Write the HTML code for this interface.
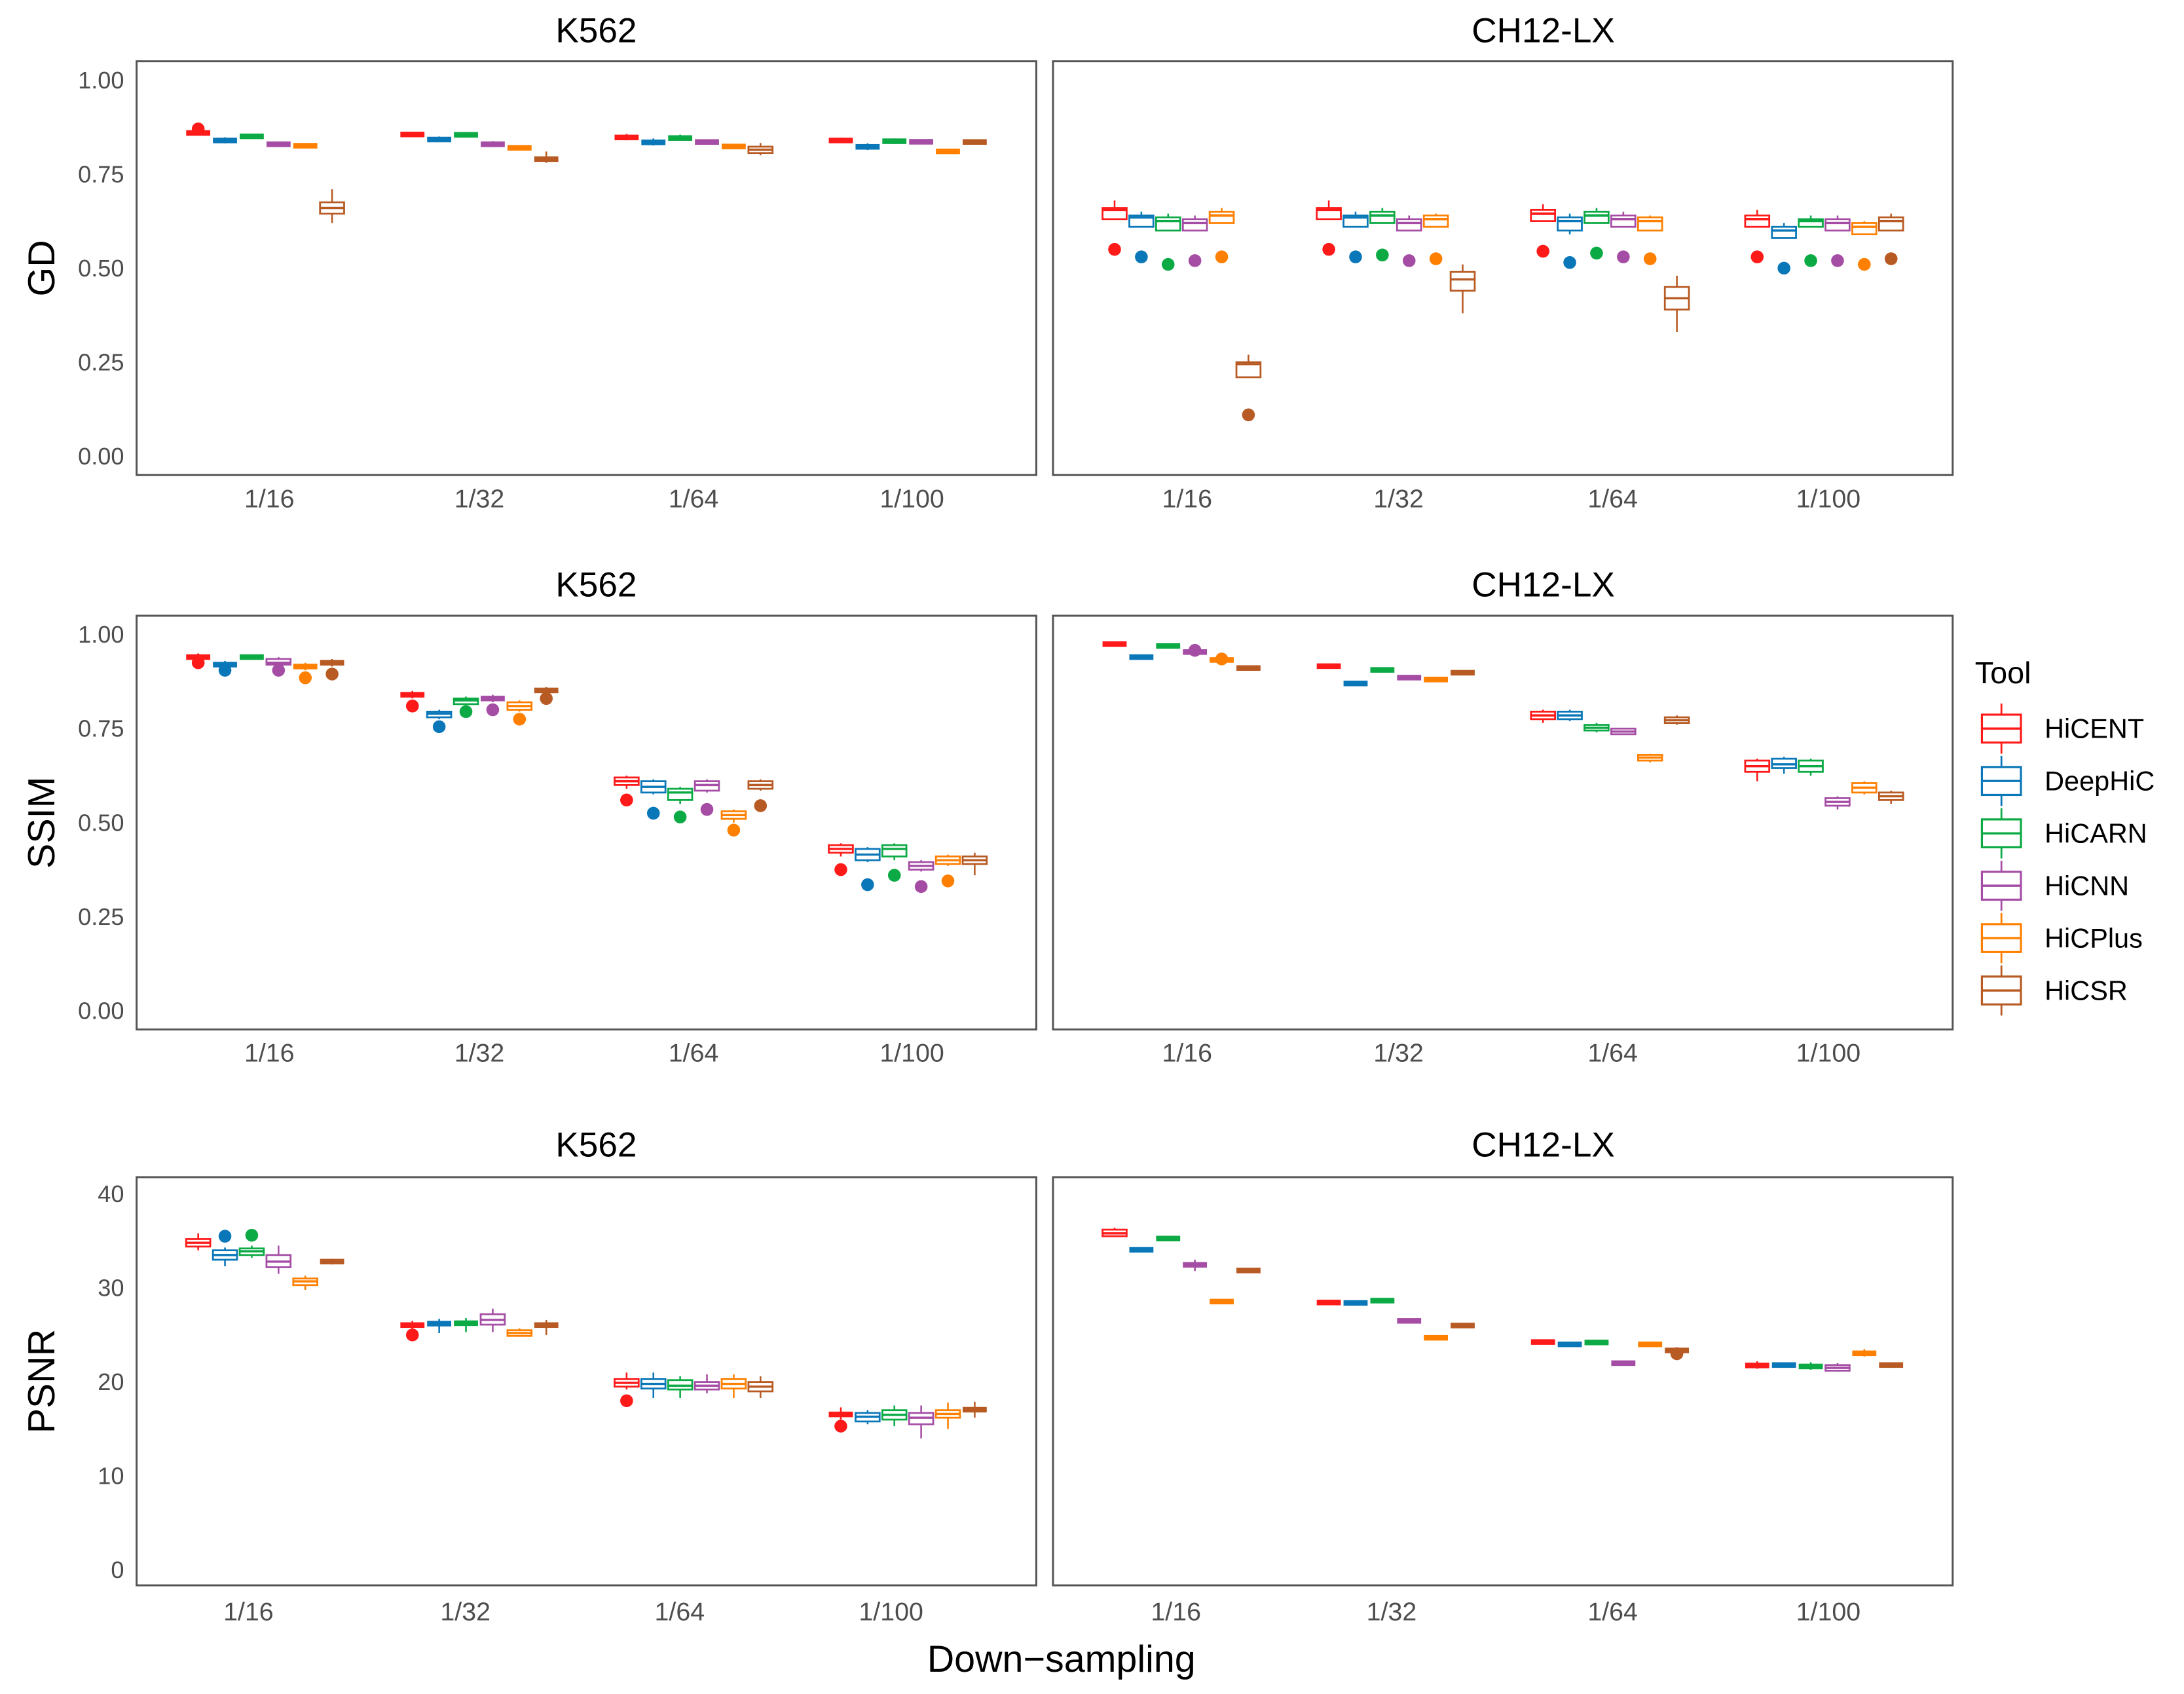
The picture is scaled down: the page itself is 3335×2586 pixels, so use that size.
<!DOCTYPE html>
<html><head><meta charset="utf-8"><style>
html,body{margin:0;padding:0;background:#fff;}
svg{display:block;font-family:"Liberation Sans",Arial,sans-serif;}
</style></head><body>
<svg id="chart" width="3335" height="2586" viewBox="0 0 1568 1216" xmlns="http://www.w3.org/2000/svg"></svg>
<script>
const tools = ["HiCENT","DeepHiC","HiCARN","HiCNN","HiCPlus","HiCSR"];
const colors = ["#FF1A1A","#0A77B8","#0BAA44","#A54DA5","#FF8000","#B85A23"];
const categories = ["1/16","1/32","1/64","1/100"];
const gdTicks = [0,0.25,0.5,0.75,1];
const gdTickLabels = ["0.00","0.25","0.50","0.75","1.00"];
const psnrTicks = [0,10,20,30,40];
const psnrTickLabels = ["0","10","20","30","40"];

// [lo,q1,med,q3,hi] per category x tool
const gdK562 = [
 [[.855,.856,.86,.863,.865],[.832,.836,.84,.843,.848],[.845,.847,.85,.854,.857],[.825,.826,.83,.833,.836],[.822,.823,.825,.828,.829],[.62,.645,.66,.675,.71]],
 [[.85,.852,.855,.859,.862],[.835,.838,.843,.846,.85],[.848,.85,.855,.859,.862],[.822,.825,.83,.834,.838],[.815,.816,.82,.824,.825],[.78,.783,.79,.797,.81]],
 [[.84,.843,.848,.852,.857],[.826,.829,.835,.84,.845],[.84,.842,.845,.85,.855],[.828,.831,.835,.84,.842],[.818,.82,.823,.827,.828],[.80,.806,.815,.823,.833]],
 [[.833,.835,.84,.844,.847],[.814,.817,.823,.828,.832],[.83,.833,.837,.842,.845],[.83,.832,.836,.84,.843],[.805,.806,.81,.815,.817],[.83,.831,.835,.84,.843]]];
const gdK562Out = [[.87,null,null,null,null,null],[null,null,null,null,null,null],[null,null,null,null,null,null],[null,null,null,null,null,null]];
const gdCH12 = [
 [[.63,.63,.655,.66,.68],[.61,.61,.635,.64,.65],[.60,.60,.625,.635,.645],[.60,.60,.62,.63,.64],[.62,.62,.64,.65,.66],[.21,.21,.245,.25,.27]],
 [[.63,.63,.655,.66,.68],[.61,.61,.635,.64,.65],[.62,.62,.64,.65,.66],[.60,.60,.62,.63,.64],[.61,.61,.63,.64,.645],[.38,.44,.47,.49,.51]],
 [[.625,.625,.645,.655,.67],[.59,.60,.625,.635,.645],[.62,.62,.64,.65,.66],[.61,.61,.63,.64,.65],[.60,.60,.625,.635,.64],[.33,.39,.42,.45,.48]],
 [[.61,.61,.63,.64,.655],[.58,.58,.60,.61,.62],[.61,.61,.625,.63,.64],[.60,.60,.62,.63,.64],[.59,.59,.61,.62,.625],[.60,.60,.625,.635,.645]]];
const gdCH12Out = [[.55,.53,.51,.52,.53,.11],[.55,.53,.535,.52,.525,null],[.545,.515,.54,.53,.525,null],[.53,.50,.52,.52,.51,.525]];
const ssimK562 = [
 [[.93,.935,.94,.945,.95],[.91,.915,.92,.925,.93],[.935,.937,.94,.943,.946],[.915,.92,.925,.935,.94],[.905,.91,.915,.92,.925],[.915,.92,.925,.93,.935]],
 [[.83,.835,.84,.845,.85],[.775,.78,.79,.795,.80],[.81,.815,.825,.83,.835],[.82,.825,.83,.835,.84],[.795,.80,.81,.82,.825],[.845,.848,.85,.855,.86]],
 [[.59,.60,.61,.62,.625],[.575,.58,.595,.61,.615],[.55,.56,.58,.59,.595],[.58,.585,.60,.61,.615],[.50,.51,.52,.53,.535],[.585,.59,.60,.61,.615]],
 [[.41,.42,.43,.44,.445],[.395,.40,.415,.43,.435],[.40,.41,.43,.44,.445],[.37,.375,.385,.395,.40],[.385,.39,.40,.41,.415],[.36,.39,.40,.41,.42]]];
const ssimK562Out = [[.925,.905,null,.905,.885,.895],[.81,.755,.795,.80,.775,.83],[.56,.525,.515,.535,.48,.545],[.375,.335,.36,.33,.345,null]];
const ssimCH12 = [
 [[.97,.972,.975,.977,.979],[.937,.938,.94,.942,.943],[.965,.967,.97,.972,.974],[.948,.95,.953,.957,.96],[.928,.93,.932,.935,.937],[.905,.907,.91,.915,.918]],
 [[.91,.912,.915,.92,.923],[.863,.865,.87,.875,.877],[.90,.902,.905,.91,.912],[.882,.883,.885,.888,.889],[.877,.878,.88,.883,.884],[.895,.896,.898,.901,.902]],
 [[.765,.775,.785,.795,.80],[.77,.775,.785,.795,.80],[.74,.745,.752,.76,.765],[.733,.735,.742,.75,.752],[.66,.665,.673,.68,.683],[.76,.765,.772,.78,.785]],
 [[.61,.635,.65,.665,.67],[.63,.645,.655,.67,.675],[.625,.635,.65,.665,.67],[.535,.545,.555,.565,.57],[.575,.58,.593,.605,.61],[.55,.56,.57,.58,.585]]];
const ssimCH12Out = [[null,null,null,.958,.935,null],[null,null,null,null,null,null],[null,null,null,null,null,null],[null,null,null,null,null,null]];
const psnrK562 = [
 [[34,34.4,34.8,35.2,35.8],[32.3,33,33.5,34,34.3],[33.2,33.5,33.9,34.2,34.5],[31.5,32.2,32.8,33.5,34.5],[29.8,30.3,30.7,31,31.3],[32.5,32.6,32.8,33,33.1]],
 [[25.3,25.8,26,26.3,26.5],[25.2,26,26.2,26.4,26.7],[25.3,26,26.3,26.5,26.8],[25.3,26.1,26.6,27.2,27.8],[24.8,24.9,25.2,25.5,25.7],[25,25.8,26,26.3,26.6]],
 [[19.2,19.5,19.9,20.3,21],[18.3,19.3,19.8,20.3,21],[18.3,19.2,19.6,20.2,20.6],[18.8,19.2,19.6,20,20.8],[18.3,19.3,19.8,20.3,20.8],[18.3,19,19.5,20,20.6]],
 [[16,16.3,16.6,16.8,17.3],[15.5,15.8,16.3,16.7,17],[15.3,16,16.5,17,17.5],[14,15.5,16.2,16.7,17.5],[15,16.2,16.6,17,17.8],[16.2,16.8,17.1,17.3,17.9]]];
const psnrK562Out = [[null,35.5,35.6,null,null,null],[25,null,null,null,null,null],[18,null,null,null,null,null],[15.3,null,null,null,null,null]];
const psnrCH12 = [
 [[35.4,35.5,35.8,36.2,36.4],[33.8,33.9,34,34.2,34.3],[35,35.1,35.2,35.4,35.5],[31.8,32.2,32.5,32.7,33],[28.3,28.4,28.5,28.7,28.8],[31.6,31.7,31.8,32,32.1]],
 [[28.2,28.3,28.4,28.6,28.7],[28.2,28.3,28.4,28.5,28.6],[28.4,28.5,28.6,28.8,28.9],[26.3,26.4,26.5,26.6,26.7],[24.5,24.6,24.7,24.8,24.9],[25.8,25.9,26,26.1,26.2]],
 [[24,24.1,24.2,24.4,24.5],[23.7,23.8,24,24.2,24.3],[23.9,24,24.2,24.4,24.5],[21.8,21.9,22,22.1,22.2],[23.8,23.9,24,24.1,24.2],[23.1,23.2,23.3,23.5,23.6]],
 [[21.4,21.5,21.7,22,22.2],[21.5,21.6,21.8,22,22.1],[21.3,21.4,21.6,21.9,22.1],[21.1,21.2,21.5,21.8,22],[22.7,22.8,23,23.3,23.5],[21.5,21.6,21.8,22,22.1]]];
const psnrCH12Out = [[null,null,null,null,null,null],[null,null,null,null,null,null],[null,null,null,null,null,23],[null,null,null,null,null,null]];

const NS="http://www.w3.org/2000/svg";
const svg=document.getElementById('chart');
function mk(tag,attrs,parent,text){const e=document.createElementNS(NS,tag);for(const k in attrs)e.setAttribute(k,attrs[k]);if(text!==undefined)e.textContent=text;(parent||svg).appendChild(e);return e;}

const rows=[{top:44,bot:341,dom:[-0.05,1.05],ticks:gdTicks,labels:gdTickLabels,title:"GD",data:[gdK562,gdCH12],outs:[gdK562Out,gdCH12Out],xl:[358,358],ty:22},
 {top:442,bot:739,dom:[-0.05,1.05],ticks:gdTicks,labels:gdTickLabels,title:"SSIM",data:[ssimK562,ssimCH12],outs:[ssimK562Out,ssimCH12Out],xl:[756,756],ty:420},
 {top:845,bot:1138,dom:[-1.63,41.78],ticks:psnrTicks,labels:psnrTickLabels,title:"PSNR",data:[psnrK562,psnrCH12],outs:[psnrK562Out,psnrCH12Out],xl:[1157,1157],ty:822}];
const cols=[{l:98,r:744,name:"K562",tx:428},{l:756,r:1402,name:"CH12-LX",tx:1108}];
const labelShift=[[3,0,0,3],[3,0,0,3],[-12,-10,-10,-12]];
const labelShiftR=[[4,2,2,3],[4,2,2,3],[-4,-3,2,3]];

rows.forEach((row,ri)=>{
  const ys=v=>row.bot-(v-row.dom[0])/(row.dom[1]-row.dom[0])*(row.bot-row.top);
  const cy=(row.top+row.bot)/2;
  const yt=mk('text',{x:30,y:cy,'font-size':27,'text-anchor':'middle',fill:'#000',transform:`rotate(-90 30 ${cy})`,'dominant-baseline':'central'},svg,row.title);
  
  
  cols.forEach((col,ci)=>{
    const g=mk('g',{});
    
    
    const step=(col.r-col.l)/4.2;
    const xs=i=>col.l+step*(0.6+i);
    const t=mk('text',{x:col.tx,y:row.ty,'font-size':25,'text-anchor':'middle','dominant-baseline':'central',fill:'#000'},g,col.name);
    
    
    if(ci===0){
      row.ticks.forEach((v,k)=>{
        const tl=mk('text',{x:89,y:ys(v),'font-size':17,'text-anchor':'end','dominant-baseline':'central',fill:'#4d4d4d'},g,row.labels[k]);
        
        
      });
    }
    categories.forEach((c,i)=>{
      const sh=(ci===0?labelShift:labelShiftR)[ri][i];
      const xl=mk('text',{x:xs(i)+sh,y:row.xl[ci],'font-size':18.5,'text-anchor':'middle','dominant-baseline':'central',fill:'#4d4d4d'},g,c);
      
      
      const dw=step*0.75/6;
      tools.forEach((tool,j)=>{
        const s=row.data[ci][i][j];
        const cx=xs(i)-step*0.375+dw*(j+0.5);
        const w=dw*0.9;
        const col_=colors[j];
        const bg=mk('g',{},g);
        
        
        mk('line',{x1:cx,x2:cx,y1:ys(s[4]),y2:ys(s[3]),stroke:col_,'stroke-width':1.2},bg);
        mk('line',{x1:cx,x2:cx,y1:ys(s[1]),y2:ys(s[0]),stroke:col_,'stroke-width':1.2},bg);
        let y3=ys(s[3]),y1=ys(s[1]);
        const h=y1-y3;
        if(h<4){
          mk('rect',{x:cx-w/2,y:(y1+y3)/2-2,width:w,height:4,fill:col_},bg);
        } else {
          mk('rect',{x:cx-w/2,y:y3,width:w,height:h,fill:'#fff',stroke:col_,'stroke-width':1.3},bg);
          mk('line',{x1:cx-w/2,x2:cx+w/2,y1:ys(s[2]),y2:ys(s[2]),stroke:col_,'stroke-width':1.6},bg);
        }
        const o=row.outs[ci][i][j];
        if(o!==null){
          const d=mk('circle',{cx:cx,cy:ys(o),r:4.6,fill:col_},bg);
          
          
        }
      });
    });
    const fr=mk('rect',{x:col.l,y:row.top,width:col.r-col.l,height:row.bot-row.top,fill:'none',stroke:'#555','stroke-width':1.4},g);
    
    
  });
});
const xt=mk('text',{x:762,y:1191,'font-size':27,'text-anchor':'middle','dominant-baseline':'central',fill:'#000'},svg,"Down\u2212sampling");



const lg=mk('g',{});


const lt=mk('text',{x:1418,y:483,'font-size':22,'dominant-baseline':'central',fill:'#000'},lg,"Tool");


tools.forEach((tool,j)=>{
  const y=523+j*37.6;
  const e=mk('g',{},lg);
  
  
  mk('line',{x1:1437,x2:1437,y1:y-18,y2:y+18,stroke:colors[j],'stroke-width':1.3},e);
  mk('rect',{x:1423,y:y-10,width:28,height:20,fill:'#fff',stroke:colors[j],'stroke-width':1.5},e);
  mk('line',{x1:1423,x2:1451,y1:y,y2:y,stroke:colors[j],'stroke-width':1.6},e);
  mk('text',{x:1468,y:y,'font-size':19.5,'dominant-baseline':'central',fill:'#000'},e,tool);
});
</script>
</body></html>
